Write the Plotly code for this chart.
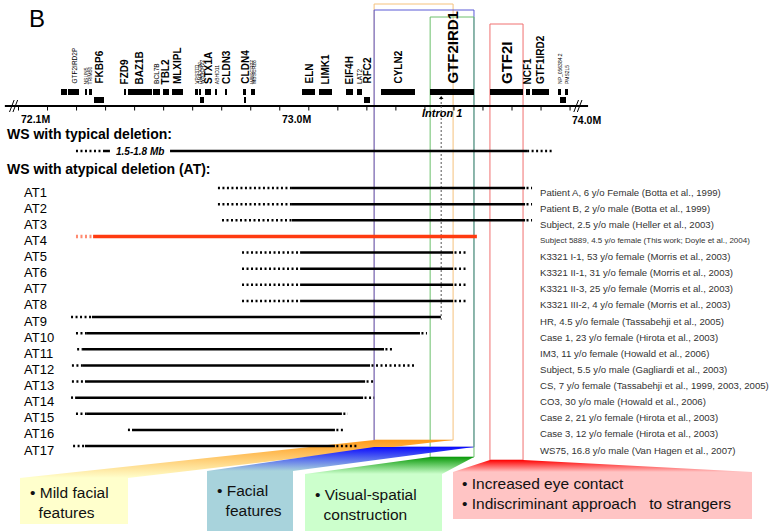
import plotly.graph_objects as go

# ---------------- data ----------------
at_names = ["AT1", "AT2", "AT3", "AT4", "AT5", "AT6", "AT7", "AT8", "AT9",
            "AT10", "AT11", "AT12", "AT13", "AT14", "AT15", "AT16", "AT17"]
# deletion extents (Mb, chr7): uncertain left start, solid start, solid end, uncertain right end
dot_left = [72.787, 72.787, 72.801, 72.298, 72.870, 72.870, 72.870, 72.870, 72.281,
            72.298, 72.302, 72.284, 72.284, 72.281, 72.298, 72.477, 72.288]
solid_start = [73.042, 73.042, 73.042, 72.357, 73.070, 73.070, 73.070, 73.070, 72.353,
               72.333, 72.319, 72.322, 72.329, 72.295, 72.333, 72.491, 72.329]
solid_end = [73.845, 73.845, 73.845, 73.679, 73.597, 73.597, 73.597, 73.597, 73.555,
             73.483, 73.359, 73.311, 73.294, 73.287, 73.214, 73.190, 73.190]
dot_right = [73.869, 73.869, 73.869, 73.679, 73.648, 73.648, 73.648, 73.648, 73.555,
             73.507, 73.387, 73.466, 73.325, 73.325, 73.235, 73.218, 73.269]
patients = [
    "Patient A, 6 y/o Female (Botta et al., 1999)",
    "Patient B, 2 y/o male (Botta et al., 1999)",
    "Subject, 2.5 y/o male (Heller et al., 2003)",
    "Subject 5889, 4.5 y/o female (This work; Doyle et al., 2004)",
    "K3321 I-1, 53 y/o female (Morris et al., 2003)",
    "K3321 II-1, 31 y/o female (Morris et al., 2003)",
    "K3321 II-3, 25 y/o female (Morris et al., 2003)",
    "K3321 III-2, 4 y/o female (Morris et al., 2003)",
    "HR, 4.5 y/o female (Tassabehji et al., 2005)",
    "Case 1, 23 y/o female (Hirota et al., 2003)",
    "IM3, 11 y/o female (Howald et al., 2006)",
    "Subject, 5.5 y/o male (Gagliardi et al., 2003)",
    "CS, 7 y/o female (Tassabehji et al., 1999, 2003, 2005)",
    "CO3, 30 y/o male (Howald et al., 2006)",
    "Case 2, 21 y/o female (Hirota et al., 2003)",
    "Case 3, 12 y/o female (Hirota et al., 2003)",
    "WS75, 16.8 y/o male (Van Hagen et al., 2007)",
]
highlight_row = "AT4"

# typical deletion (Mb)
typical_dot = [72.298, 72.391, 73.852, 73.941]
typical_solid = [72.391, 72.415, 72.622, 73.852]
typical_label = "1.5-1.8 Mb"

# genes: name, start, end (Mb), track (0 upper / 1 lower), label size
gene_names = ["", "GTF2IRD2P", "NSUN5", "TRIM50", "FKBP6", "FZD9", "BAZ1B", "BCL7B", "TBL2",
              "MLXIPL", "VPS37D", "DNAJC30", "WBSCR22", "STX1A", "ABHD11", "CLDN3", "CLDN4", "",
              "WBSCR27", "WBSCR28", "ELN", "LIMK1", "EIF4H", "LAT2", "RFC2", "CYLN2",
              "GTF2IRD1", "GTF2I", "NCF1", "GTF1IRD2", "NP_056384.2", "PMS2L5", ""]
gene_start = [72.246, 72.271, 72.329, 72.343, 72.360, 72.463, 72.477, 72.563, 72.598,
              72.629, 72.711, 72.722, 72.725, 72.742, 72.780, 72.811, 72.873, 72.878,
              72.902, 72.910, 73.077, 73.135, 73.228, 73.266, 73.290, 73.349,
              73.518, 73.724, 73.848, 73.869, 73.958, 73.983, 73.965]
gene_end = [72.267, 72.308, 72.336, 72.353, 72.395, 72.470, 72.560, 72.587, 72.618,
            72.667, 72.717, 72.729, 72.739, 72.763, 72.785, 72.818, 72.885, 72.885,
            72.907, 72.915, 73.121, 73.180, 73.252, 73.283, 73.311, 73.466,
            73.669, 73.838, 73.862, 73.927, 73.969, 73.993, 73.986]
gene_track = [0, 0, 0, 0, 1, 0, 0, 0, 0,
              0, 0, 0, 1, 0, 0, 0, 0, 1,
              0, 0, 0, 0, 0, 0, 1, 0,
              0, 0, 0, 0, 0, 0, 1]
gene_size = ["S", "S", "XS", "XS", "M", "M", "M", "S", "M",
             "M", "XS", "XS", "XS", "M", "XS", "M", "M", "S",
             "XS", "XS", "M", "M", "M", "S", "M", "M",
             "L", "L", "M", "M", "XS", "XS", "S"]

axis_ticks = [72.1, 72.2, 72.3, 72.4, 72.5, 72.6, 72.7, 72.8, 72.9, 73.0,
              73.1, 73.2, 73.3, 73.4, 73.5, 73.6, 73.7, 73.8, 73.9, 74.0]
axis_labels = {72.1: "72.1M", 73.0: "73.0M", 74.0: "74.0M"}
axis_extent = [72.053, 74.062]
intron_pos = 73.556

# phenotype regions (Mb) and their text
regions = [
    dict(name="orange", x0=73.325, x1=73.597, line="#f5c27c", top="#ff9a1a", bottom="#ffffcc",
         text="• Mild facial<br>  features"),
    dict(name="blue", x0=73.325, x1=73.669, line="#5a5ad6", top="#0a0aff", bottom="#a8d3dc",
         text="• Facial<br>  features"),
    dict(name="green", x0=73.518, x1=73.669, line="#6cc06c", top="#0a9a0a", bottom="#ccffcc",
         text="• Visual-spatial<br>  construction"),
    dict(name="red", x0=73.724, x1=73.838, line="#f07070", top="#ff0000", bottom="#ffc4c4",
         text="• Increased eye contact<br>• Indiscriminant approach   to strangers"),
]

# ---------------- layout mapping helpers ----------------
W, H = 780, 531
X0PX, X0MB, PXMB = 18.5, 72.1, 290.3
ROW0PX, ROWPX = 188.0, 16.125


def X(px):
    return X0MB + (px - X0PX) / PXMB


def Y(px):
    return 1 + (px - ROW0PX) / ROWPX


FONT = "Liberation Sans, Arial, sans-serif"
NARROW = "Liberation Sans Narrow, Arial Narrow, Liberation Sans, sans-serif"

fig = go.Figure()
shapes = []
ann = []

# ---- colored region frames ----
frame_geo = {"orange": (4, 440), "blue": (10, 447), "green": (17, 457), "red": (24, 460)}
for r in regions:
    t, b = frame_geo[r["name"]]
    shapes.append(dict(type="rect", xref="x", yref="y", x0=r["x0"], x1=r["x1"],
                       y0=Y(t), y1=Y(b), line=dict(color=r["line"], width=1), layer="below"))

# ---- phenotype boxes & fans ----
boxes = {"orange": (20, 128, 478, 524), "blue": (207, 293, 471, 531),
         "green": (305, 442, 474, 531), "red": (453, 752, 472, 519)}
box_text_pos = {"orange": (28, 502), "blue": (215, 500), "green": (313, 504), "red": (460, 493)}
for r in regions:
    t, b = frame_geo[r["name"]]
    bx0, bx1, by0, by1 = boxes[r["name"]]
    fx = [r["x0"], r["x1"], X(bx1), X(bx0), r["x0"]]
    fy = [Y(b), Y(b), Y(by0), Y(by0), Y(b)]
    fig.add_trace(go.Scatter(
        x=fx, y=fy, mode="lines", fill="toself", line=dict(width=0),
        fillgradient=dict(type="vertical", start=Y(b), stop=Y(by0),
                          colorscale=[[0, r["top"]], [1, r["bottom"]]]),
        hoverinfo="skip", showlegend=False))
    shapes.append(dict(type="rect", xref="x", yref="y", x0=X(bx0), x1=X(bx1),
                       y0=Y(by0), y1=Y(by1), line=dict(width=0), fillcolor=r["bottom"],
                       layer="below"))
    tx, ty = box_text_pos[r["name"]]
    ann.append(dict(x=X(tx), y=Y(ty), text=r["text"], xanchor="left", yanchor="middle",
                    align="left", showarrow=False,
                    font=dict(family=NARROW, size=15.5, color="#111")))

# ---- genomic axis ----
axis_y = Y(106)
fig.add_trace(go.Scatter(x=axis_extent, y=[axis_y, axis_y], mode="lines",
                         line=dict(color="black", width=2), hoverinfo="skip", showlegend=False))
tx, ty = [], []
for t in axis_ticks:
    tx += [t, t, None]
    ty += [axis_y, Y(110.5), None]
fig.add_trace(go.Scatter(x=tx, y=ty, mode="lines", line=dict(color="black", width=1),
                         hoverinfo="skip", showlegend=False))
for t, lab in axis_labels.items():
    ann.append(dict(x=t, y=Y(118.5 if t < 74 else 120), text="<b>" + lab + "</b>",
                    xanchor="left", yanchor="middle", showarrow=False,
                    font=dict(family=FONT, size=10.5, color="black")))
for bx in (axis_extent[0] + 0.03, axis_extent[1] - 0.035):
    for dx in (-0.006, 0.006):
        shapes.append(dict(type="line", xref="x", yref="y",
                           x0=bx + dx - 0.008, x1=bx + dx + 0.008, y0=Y(112), y1=Y(100),
                           line=dict(color="black", width=1)))

# ---- gene blocks ----
track_px = {0: 92, 1: 99.5}
fig.add_trace(go.Bar(
    orientation="h", base=gene_start, x=[e - s for s, e in zip(gene_start, gene_end)],
    y=[Y(track_px[t]) for t in gene_track], width=6 / ROWPX,
    marker=dict(color="black", line=dict(width=0)), hoverinfo="skip", showlegend=False))
size_font = {"L": (15, True), "M": (10, True), "S": (6.5, False), "XS": (5, False)}
for n, s, e, sz in zip(gene_names, gene_start, gene_end, gene_size):
    if not n:
        continue
    fs, bold = size_font[sz]
    ann.append(dict(x=(s + e) / 2, y=Y(86), text=("<b>%s</b>" % n) if bold else n,
                    textangle=-90, xanchor="center", yanchor="bottom", showarrow=False,
                    font=dict(family=FONT, size=fs, color="black")))

ann.append(dict(x=X(442), y=Y(113), text="<b><i>Intron 1</i></b>", showarrow=False,
                xanchor="center", yanchor="middle", font=dict(family=FONT, size=11, color="black")))

# ---- intron dotted line ----
fig.add_trace(go.Scatter(x=[intron_pos, intron_pos], y=[Y(98), Y(320)], mode="lines",
                         line=dict(color="#555", width=1, dash="2px,2px"),
                         hoverinfo="skip", showlegend=False))
fig.add_trace(go.Scatter(x=[intron_pos], y=[Y(98)], mode="markers",
                         marker=dict(symbol="triangle-up", size=4, color="black"),
                         hoverinfo="skip", showlegend=False))

# ---- typical deletion ----
ty_row = Y(151)
fig.add_trace(go.Scatter(x=[typical_dot[0], typical_dot[1], None, typical_dot[2], typical_dot[3]],
                         y=[ty_row, ty_row, None, ty_row, ty_row], mode="lines",
                         line=dict(color="black", width=2.5, dash="2px,2.5px"),
                         hoverinfo="skip", showlegend=False))
fig.add_trace(go.Scatter(x=[typical_solid[0], typical_solid[1], None, typical_solid[2], typical_solid[3]],
                         y=[ty_row, ty_row, None, ty_row, ty_row], mode="lines",
                         line=dict(color="black", width=2.5), hoverinfo="skip", showlegend=False))
ann.append(dict(x=(typical_solid[1] + typical_solid[2]) / 2, y=ty_row,
                text="<b><i>" + typical_label + "</i></b>", showarrow=False,
                font=dict(family=FONT, size=10, color="black")))

# ---- atypical deletions ----
for i, name in enumerate(at_names):
    row = i + 1
    red = name == highlight_row
    col = "#ff3b10" if red else "black"
    dcol = "#ff8a70" if red else "black"
    lw = 3.5 if red else 2.5
    fig.add_trace(go.Scatter(x=[dot_left[i], solid_start[i]], y=[row, row], mode="lines",
                             line=dict(color=dcol, width=lw, dash="2px,2.5px"),
                             hoverinfo="skip", showlegend=False))
    if dot_right[i] > solid_end[i]:
        fig.add_trace(go.Scatter(x=[solid_end[i] + 0.005, dot_right[i]], y=[row, row], mode="lines",
                                 line=dict(color=dcol, width=lw, dash="2px,2.5px"),
                                 hoverinfo="skip", showlegend=False))
    fig.add_trace(go.Scatter(x=[solid_start[i], solid_end[i]], y=[row, row], mode="lines",
                             line=dict(color=col, width=lw), hoverinfo="skip", showlegend=False))
    ann.append(dict(x=X(22), y=row, yshift=-4, text=name, xanchor="left", showarrow=False,
                    font=dict(family=FONT, size=13, color="black")))
    ann.append(dict(x=X(538), y=row, yshift=-4, text=patients[i], xanchor="left", showarrow=False,
                    font=dict(family=FONT, size=8 if red else 9.6, color="#333")))

# ---- headings ----
ann.append(dict(x=X(27), y=Y(18), text="B", xanchor="left", showarrow=False,
                font=dict(family=FONT, size=24, color="black")))
ann.append(dict(x=X(5), y=Y(134), text="<b>WS with typical deletion:</b>", xanchor="left",
                showarrow=False, font=dict(family=FONT, size=14, color="black")))
ann.append(dict(x=X(5), y=Y(169), text="<b>WS with atypical deletion (AT):</b>", xanchor="left",
                showarrow=False, font=dict(family=FONT, size=14, color="black")))

fig.update_layout(
    width=W, height=H, margin=dict(l=0, r=0, t=0, b=0),
    paper_bgcolor="white", plot_bgcolor="white", showlegend=False,
    barmode="overlay", bargap=0,
    xaxis=dict(range=[X(0), X(W)], visible=False, fixedrange=True),
    yaxis=dict(range=[Y(H), Y(0)], visible=False, fixedrange=True),
    shapes=shapes, annotations=ann,
)
fig.write_html("out.html", config={"displayModeBar": False},
               post_script="document.body.style.margin='0';document.body.style.overflow='hidden';")
